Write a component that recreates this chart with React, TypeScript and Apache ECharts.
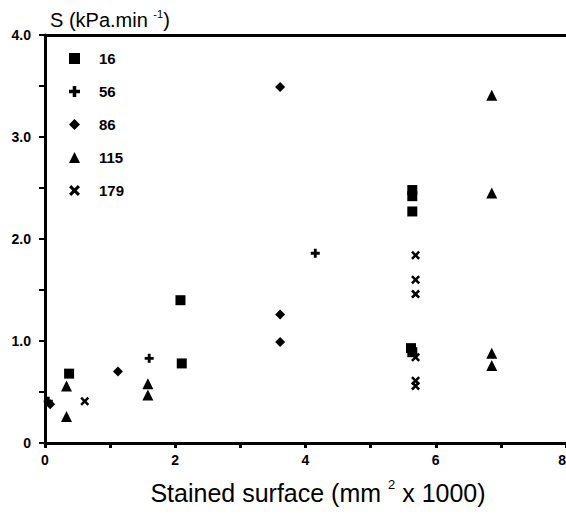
import React, { useEffect, useRef } from "react";
import * as echarts from "echarts";

const seriesNames = ["16", "56", "86", "115", "179"];

const s16: number[][] = [
  [0.37, 0.68], [2.08, 1.40], [2.10, 0.78], [5.64, 2.48], [5.64, 2.42],
  [5.64, 2.27], [5.62, 0.93], [5.64, 0.89],
];
const s56: number[][] = [[0.05, 0.41], [1.60, 0.83], [4.15, 1.86]];
const s86: number[][] = [
  [0.08, 0.38], [1.12, 0.70], [3.61, 3.49], [3.61, 1.26], [3.61, 0.99],
];
const s115: number[][] = [
  [0.33, 0.56], [0.33, 0.26], [1.58, 0.58], [1.58, 0.47],
  [6.86, 3.41], [6.86, 2.45], [6.86, 0.88], [6.86, 0.76],
];
const s179: number[][] = [
  [0.61, 0.41], [5.69, 1.84], [5.69, 1.60], [5.69, 1.46],
  [5.69, 0.84], [5.69, 0.61], [5.69, 0.56],
];

const seriesData = [s16, s56, s86, s115, s179];

const PLUS = "path://M3.4,0H6.6V3.4H10V6.6H6.6V10H3.4V6.6H0V3.4H3.4Z";
const CROSS =
  "path://M0,2L2,0L5,3L8,0L10,2L7,5L10,8L8,10L5,7L2,10L0,8L3,5Z";
const symbols = ["rect", PLUS, "diamond", "triangle", CROSS];
const symbolSizes = [10, 9, 10, 11, 9];

const FONT = "Liberation Sans, Arial, Helvetica, sans-serif";

export default function App() {
  const ref = useRef<HTMLDivElement>(null);
  useEffect(() => {
    if (!ref.current) return;
    const chart = echarts.init(ref.current, null, { renderer: "svg" });
    chart.setOption({
      animation: false,
      backgroundColor: "#ffffff",
      grid: { left: 45, right: 0, top: 35, bottom: 71, outerBoundsMode: "none" },
      legend: {
        orient: "vertical",
        left: 64,
        top: 46,
        itemWidth: 11,
        itemHeight: 11,
        itemGap: 18,
        data: seriesNames,
        itemStyle: { opacity: 1 },
        textStyle: {
          color: "#000",
          fontFamily: FONT,
          fontWeight: "bold",
          fontSize: 15,
          padding: [0, 0, 0, 14],
        },
      },
      xAxis: [
        {
          type: "value",
          min: 0,
          max: 8,
          interval: 1,
          splitLine: { show: false },
          axisLine: { lineStyle: { color: "#000", width: 3 } },
          axisTick: { show: true, length: 5, lineStyle: { color: "#000", width: 3 } },
          axisLabel: {
            color: "#000",
            fontFamily: FONT,
            fontWeight: "bold",
            fontSize: 14,
            margin: 10,
            alignMaxLabel: "right",
            formatter: (v: number) => (v % 2 === 0 ? String(v) : ""),
          },
        },
        {
          type: "value",
          position: "top",
          min: 0,
          max: 8,
          splitLine: { show: false },
          axisLine: { show: true, lineStyle: { color: "#000", width: 3 } },
          axisTick: { show: false },
          axisLabel: { show: false },
        },
      ],
      yAxis: {
        type: "value",
        min: 0,
        max: 4,
        interval: 0.5,
        splitLine: { show: false },
        axisLine: { lineStyle: { color: "#000", width: 3 } },
        axisTick: { show: true, length: 6, lineStyle: { color: "#000", width: 2 } },
        axisLabel: {
          color: "#000",
          fontFamily: FONT,
          fontWeight: "bold",
          fontSize: 14,
          margin: 14,
          formatter: (v: number) =>
            v === 0 ? "0" : Number.isInteger(v) ? v.toFixed(1) : "",
        },
      },
      series: seriesNames.map((name, i) => ({
        name,
        type: "scatter",
        xAxisIndex: 0,
        data: seriesData[i],
        symbol: symbols[i],
        symbolSize: symbolSizes[i],
        itemStyle: { color: "#000", opacity: 1 },
      })),
      graphic: [
        {
          type: "text",
          left: 50,
          top: 8,
          style: {
            text: "{a|S (kPa.min }{s|-1}{a|)}",
            fill: "#000",
            rich: {
              a: { fontFamily: FONT, fontSize: 20, lineHeight: 24, fill: "#000" },
              s: {
                fontFamily: FONT,
                fontSize: 11,
                lineHeight: 24,
                verticalAlign: "top",
                fill: "#000",
              },
            },
          },
        },
        {
          type: "text",
          x: 318,
          y: 478,
          style: {
            text: "{a|Stained surface (mm }{s|2}{a| x 1000)}",
            textAlign: "center",
            fill: "#000",
            rich: {
              a: { fontFamily: FONT, fontSize: 25, lineHeight: 30, fill: "#000" },
              s: {
                fontFamily: FONT,
                fontSize: 13,
                lineHeight: 30,
                verticalAlign: "top",
                fill: "#000",
              },
            },
          },
        },
      ],
    });
    return () => chart.dispose();
  }, []);
  return (
    <div
      ref={ref}
      style={{ position: "absolute", left: 0, top: 0, width: 566, height: 514 }}
    />
  );
}
